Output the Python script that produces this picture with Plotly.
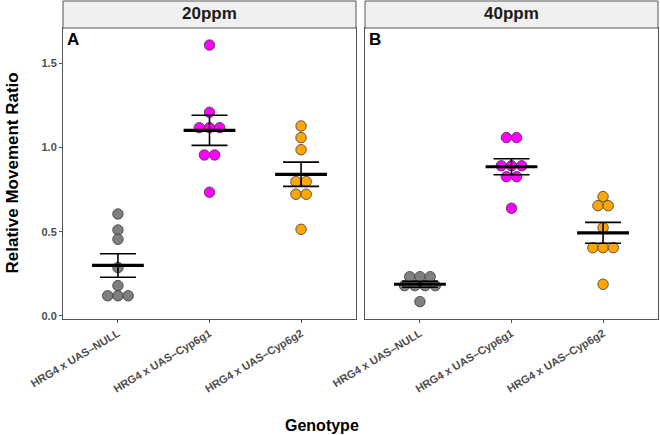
import numpy as np
import plotly.graph_objects as go
from plotly.subplots import make_subplots

genotypes = ["HRG4 x UAS\u2013NULL", "HRG4 x UAS\u2013Cyp6g1", "HRG4 x UAS\u2013Cyp6g2"]
panels = ["20ppm", "40ppm"]
panel_tags = ["A", "B"]
colors = ["#7f7f7f", "#ff00ff", "#ffa500"]

null_20 = [0.605, 0.51, 0.455, 0.287, 0.18, 0.12, 0.12, 0.12]
g1_20 = [1.607, 1.208, 1.117, 1.117, 1.117, 0.955, 0.955, 0.734]
g2_20 = [1.127, 1.058, 0.986, 0.797, 0.797, 0.722, 0.722, 0.514]
null_40 = [0.233, 0.233, 0.233, 0.18, 0.18, 0.18, 0.18, 0.085]
g1_40 = [1.058, 1.058, 0.891, 0.891, 0.891, 0.826, 0.826, 0.639]
g2_40 = [0.708, 0.654, 0.654, 0.524, 0.405, 0.405, 0.405, 0.188]

data = [[null_20, g1_20, g2_20], [null_40, g1_40, g2_40]]

y_ticks = [0.0, 0.5, 1.0, 1.5]
y_ticklabels = ["0.0", "0.5", "1.0", "1.5"]

DOT_W = 0.112  # dot width in category units (dotplot stacking)


def stack_offsets(vals):
    vals = np.asarray(vals)
    xs = np.zeros(len(vals))
    for v in np.unique(vals):
        idx = np.where(vals == v)[0]
        n = len(idx)
        xs[idx] = (np.arange(n) - (n - 1) / 2) * DOT_W
    return xs


W, H = 660, 435
ML, MR, MT, MB = 63, 2, 28, 116
plot_w = W - ML - MR
plot_h = H - MT - MB

fig = make_subplots(rows=1, cols=2, horizontal_spacing=9 / plot_w)

for p in range(2):
    for g in range(3):
        vals = np.array(data[p][g])
        xpos = (g + 1) + stack_offsets(vals)
        fig.add_trace(go.Scatter(
            x=xpos, y=vals, mode="markers",
            marker=dict(size=10.5, color=colors[g],
                        line=dict(color="#3a3a3a", width=0.8)),
            showlegend=False, hoverinfo="y"), row=1, col=p + 1)
    for g in range(3):
        vals = np.array(data[p][g])
        m = vals.mean()
        se = vals.std(ddof=1) / np.sqrt(len(vals))
        fig.add_trace(go.Scatter(
            x=[g + 1], y=[m], mode="markers",
            marker=dict(symbol="line-ew", size=37,
                        line=dict(color="black", width=3.2)),
            error_y=dict(type="data", array=[se], visible=True,
                         color="black", thickness=1.6, width=18),
            showlegend=False, hoverinfo="y"), row=1, col=p + 1)

axis_font = dict(family="Liberation Sans", size=11, color="#4d4d4d")
for c in (1, 2):
    fig.update_xaxes(
        row=1, col=c, range=[0.4, 3.6], tickmode="array",
        tickvals=[1, 2, 3],
        ticktext=["<b>%s</b>" % t for t in genotypes],
        tickangle=-31, tickfont=axis_font, ticks="outside",
        ticklen=3, tickcolor="#555555", showline=True, linecolor="#555555",
        linewidth=1, mirror=True, showgrid=False, zeroline=False,
        automargin=False)
    fig.update_yaxes(
        row=1, col=c, range=[-0.018, 1.708], showline=True,
        linecolor="#555555", linewidth=1, mirror=True, showgrid=False,
        zeroline=False, automargin=False)

fig.update_yaxes(row=1, col=1, tickmode="array", tickvals=y_ticks,
                 ticktext=["<b>%s</b>" % t for t in y_ticklabels],
                 tickfont=axis_font, ticks="outside", ticklen=3,
                 tickcolor="#555555")
fig.update_yaxes(row=1, col=2, showticklabels=False, ticks="")

strip_h = MT / plot_h
doms = [fig.layout.xaxis.domain, fig.layout.xaxis2.domain]
for p in range(2):
    d = doms[p]
    fig.add_shape(type="rect", xref="paper", yref="paper",
                  x0=d[0], x1=d[1], y0=1.0, y1=1.0 + (MT - 1) / plot_h,
                  fillcolor="#f0f0f0", line=dict(color="#555555", width=1))
    fig.add_annotation(xref="paper", yref="paper",
                       x=(d[0] + d[1]) / 2, y=1.0 + strip_h / 2,
                       text="<b>%s</b>" % panels[p], showarrow=False,
                       font=dict(family="Liberation Sans", size=17,
                                 color="#1a1a1a"),
                       xanchor="center", yanchor="middle")
    fig.add_annotation(xref="paper", yref="paper",
                       x=d[0] + 0.004, y=1.0, text="<b>%s</b>" % panel_tags[p],
                       showarrow=False, xanchor="left", yanchor="top",
                       font=dict(family="Liberation Sans", size=17,
                                 color="black"))

fig.add_annotation(xref="paper", yref="paper", x=(322 - ML) / plot_w,
                   y=-(425 - (MT + plot_h)) / plot_h,
                   text="<b>Genotype</b>", showarrow=False,
                   xanchor="center", yanchor="middle",
                   font=dict(family="Liberation Sans", size=16, color="black"))
fig.add_annotation(xref="paper", yref="paper", x=-(ML - 12) / plot_w, y=0.5,
                   text="<b>Relative Movement Ratio</b>", showarrow=False,
                   textangle=-90, xanchor="center", yanchor="middle",
                   font=dict(family="Liberation Sans", size=17, color="black"))

fig.update_layout(width=W, height=H,
                  margin=dict(l=ML, r=MR, t=MT, b=MB, autoexpand=False),
                  plot_bgcolor="white", paper_bgcolor="white")

fig.write_html("out.html", config={"displayModeBar": False},
               post_script="document.body.style.margin='0';document.body.style.overflow='hidden';")
